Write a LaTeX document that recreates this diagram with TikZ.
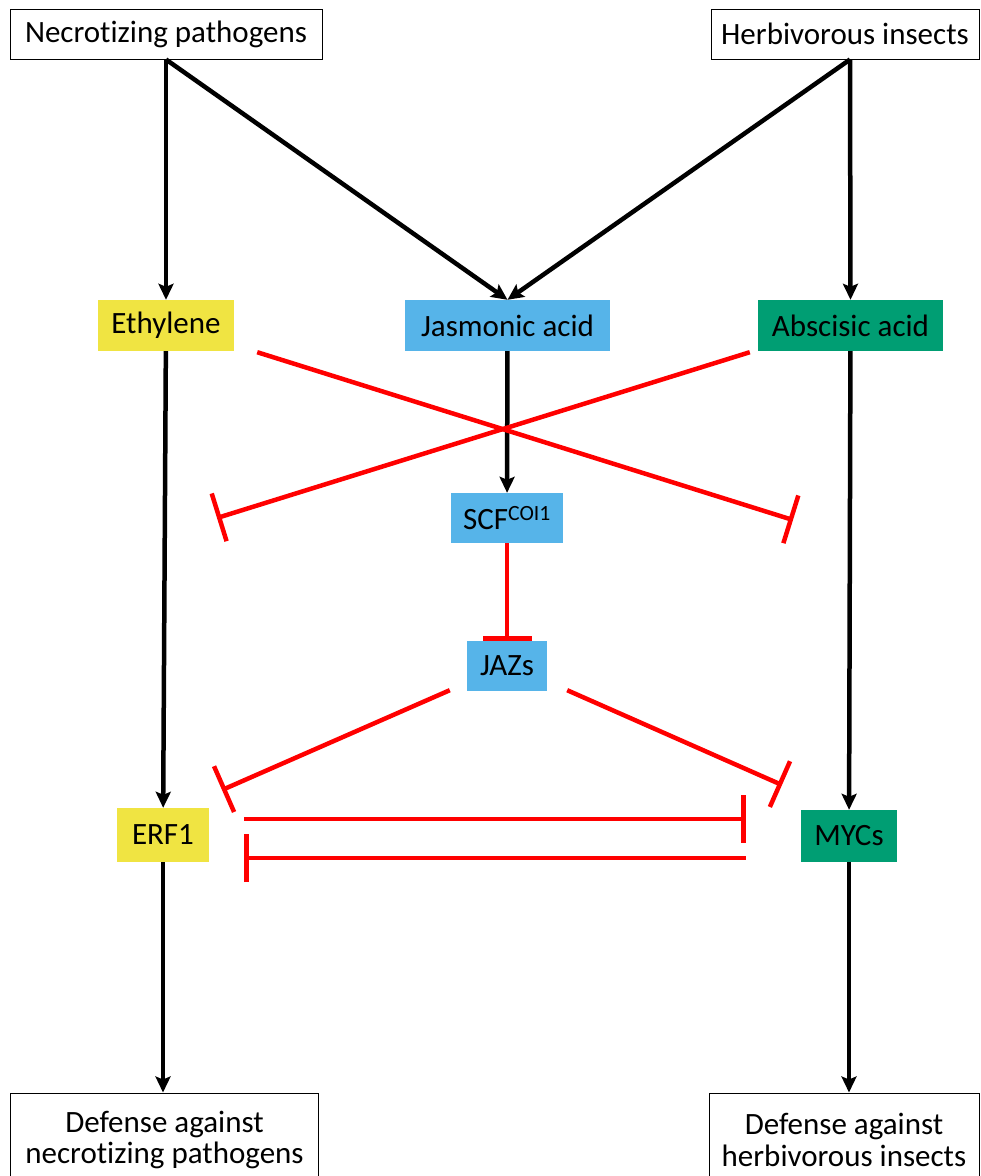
\documentclass[tikz,border=0pt]{standalone}
\usepackage{fontspec}
\setmainfont{Carlito}[RawFeature={-liga;-clig;-dlig;-calt}]
\usepackage{xcolor}
\usetikzlibrary{arrows.meta}
\definecolor{ethyl}{HTML}{F0E442}
\definecolor{jablue}{HTML}{56B4E9}
\definecolor{abagreen}{HTML}{009E73}
\tikzset{
  src/.style={rectangle, draw, line width=1pt, align=center, inner sep=0pt, fill=white},
  hrm/.style={rectangle, align=center, inner sep=0pt},
  act/.style={-{Stealth[length=16pt, width=15pt, inset=3pt]}, line width=4.5pt},
  inh/.style={-{Bar[width=#1]}, line width=4.5pt, red},
  inh/.default=50pt,
}

\begin{document}
\begin{tikzpicture}[x=1pt, y=-1pt, font=\fontsize{31}{31.5}\selectfont]
\useasboundingbox (0,0) rectangle (981,1176);
\node[src, minimum width=312pt, minimum height=50pt] (nec) at (166,34) {Necrot\kern0pt izing pathogens};
\node[src, minimum width=268pt, minimum height=50pt] (herb) at (845,34) {Herbivorous insects};
\node[hrm, fill=ethyl, minimum width=136pt, minimum height=51pt] (eth) at (166,325.5) {Ethylene};
\node[hrm, fill=jablue, minimum width=205pt, minimum height=51pt] (ja) at (507.5,325.5) {Jasmonic acid};
\node[hrm, fill=abagreen, minimum width=185pt, minimum height=51pt] (aba) at (850.5,325.5) {Abscisic acid};
\node[hrm, fill=jablue, minimum width=112pt, minimum height=50pt] (scf) at (507,518) {SCF\textsuperscript{COI1}};
\node[hrm, fill=jablue, minimum width=80pt, minimum height=50pt] (jaz) at (507,666) {JAZs};
\node[hrm, fill=ethyl, minimum width=92pt, minimum height=54pt] (erf) at (163,835) {ERF1};
\node[hrm, fill=abagreen, minimum width=96pt, minimum height=52pt] (myc) at (849,836) {MYCs};
\node[src, minimum width=308pt, minimum height=94pt] (defn) at (164.5,1140) {Defense against\\necrot\kern0pt izing pathogens};
\node[src, minimum width=270pt, minimum height=94pt] (defh) at (844,1140) {Defense against\\herbivorous insects};

\draw[act] (nec.south) -- (eth.north);
\draw[act] (nec.south) -- (ja.north);
\draw[act] ([xshift=5pt]herb.south) -- (ja.north);
\draw[act] ([xshift=5pt]herb.south) -- (aba.north);
\draw[act] (ja) -- (scf);
\draw[act] (eth) -- (erf);
\draw[act] (aba) -- (myc);
\draw[act] (erf) -- (erf |- defn.north);
\draw[act] (myc) -- (myc |- defh.north);

\coordinate (ebar) at (793,520);
\coordinate (abar) at (217,518);
\coordinate (jlbar) at (222,790);
\coordinate (jrbar) at (782,785);
\draw[inh] ([shift={(23,1)}]eth.south east) -- (ebar);
\draw[inh] ([shift={(-8,1)}]aba.south west) -- (abar);
\draw[inh=49pt] (scf) -- (jaz);
\draw[inh] ([shift={(-17,-1)}]jaz.south west) -- (jlbar);
\draw[inh] ([shift={(20,-1)}]jaz.south east) -- (jrbar);
\draw[inh=48pt] ([shift={(35,-16)}]erf.east) -- ([shift={(-55,-17)}]myc.west);
\draw[inh=48pt] ([shift={(-55,22)}]myc.west) -- ([shift={(35,23)}]erf.east);
\end{tikzpicture}
\end{document}
